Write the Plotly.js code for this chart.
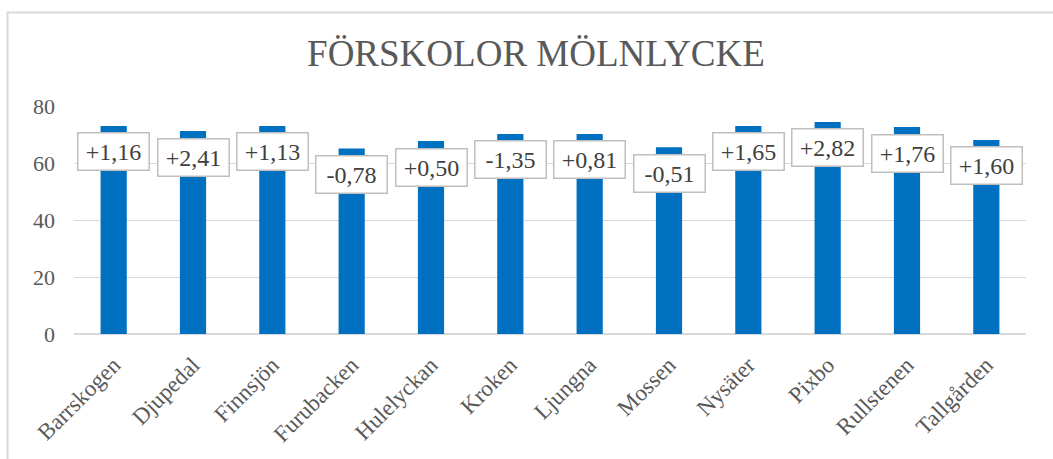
<!DOCTYPE html>
<html><head><meta charset="utf-8">
<script src="https://cdn.plot.ly/plotly-3.0.1.min.js"></script>
<style>html,body{margin:0;padding:0;background:#fff}#chart{width:1053px;height:459px}</style>
</head><body><div id="chart"></div>
<script>
const categories = ["Barrskogen","Djupedal","Finnsjön","Furubacken","Hulelyckan","Kroken","Ljungna","Mossen","Nysäter","Pixbo","Rullstenen","Tallgården"];
const values = [73.0, 71.2, 73.0, 65.1, 67.7, 70.2, 70.2, 65.5, 73.0, 74.4, 72.6, 68.1];
const changeLabels = ["+1,16","+2,41","+1,13","-0,78","+0,50","-1,35","+0,81","-0,51","+1,65","+2,82","+1,76","+1,60"];
const yTicks = [0, 20, 40, 60, 80];

const FONT = "Liberation Serif";

const annotations = categories.map((c, i) => ({
  x: c, y: values[i], xref: 'x', yref: 'y',
  text: changeLabels[i], showarrow: false,
  yanchor: 'middle', yshift: -26,
  width: 62, height: 28, align: 'center', valign: 'middle',
  font: {family: FONT, size: 24, color: '#404040'},
  bgcolor: '#ffffff', bordercolor: '#bfbfbf', borderwidth: 1.5, borderpad: 4
}));

const trace = {
  type: 'bar', x: categories, y: values,
  marker: {color: '#0070c0'}, hoverinfo: 'none'
};

const layout = {
  width: 1053, height: 459,
  margin: {l: 74, r: 27, t: 106, b: 125},
  paper_bgcolor: '#ffffff', plot_bgcolor: '#ffffff',
  font: {family: FONT},
  bargap: 0.67,
  showlegend: false,
  title: {text: 'FÖRSKOLOR MÖLNLYCKE', font: {family: FONT, size: 37, color: '#595959'},
          xref: 'container', yref: 'container', x: 0.509, y: 1 - 53/459, xanchor: 'center', yanchor: 'middle'},
  xaxis: {
    tickangle: -45, tickfont: {family: FONT, size: 23, color: '#595959'},
    showgrid: false, showline: false, zeroline: false, ticks: '', ticklabelstandoff: 12
  },
  yaxis: {
    range: [0, 80], tickvals: yTicks, ticktext: yTicks.map(String),
    tickfont: {family: FONT, size: 22, color: '#595959'},
    showgrid: true, gridcolor: '#d9d9d9', gridwidth: 1,
    zeroline: true, zerolinecolor: '#d9d9d9', zerolinewidth: 2,
    showline: false, ticks: '', ticklabelstandoff: 18
  },
  annotations: annotations,
  shapes: [{
    type: 'rect', xref: 'paper', yref: 'paper',
    x0: (7.5 - 74) / 952, x1: (1070 - 74) / 952,
    y0: (334 - 480) / 228, y1: (334 - 12.5) / 228,
    line: {color: '#d9d9d9', width: 2}, fillcolor: 'rgba(0,0,0,0)', layer: 'below'
  }]
};

Plotly.newPlot('chart', [trace], layout, {displayModeBar: false, staticPlot: true});
</script></body></html>
